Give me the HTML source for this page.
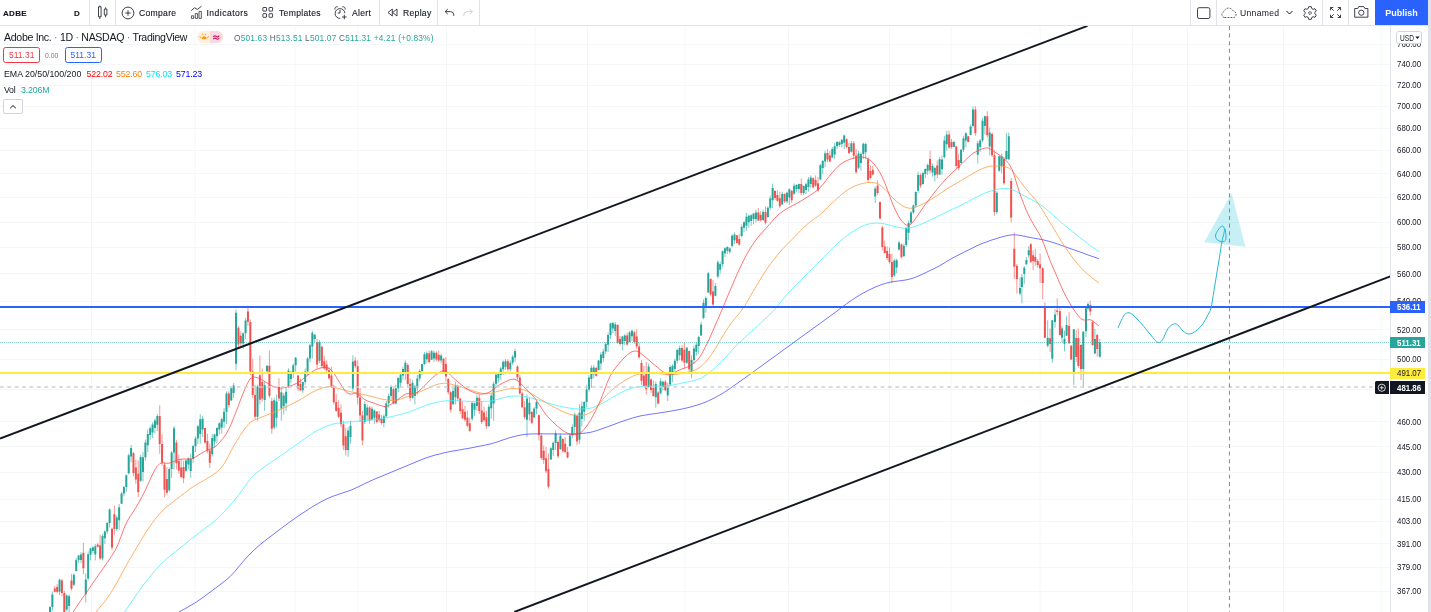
<!DOCTYPE html>
<html><head><meta charset="utf-8"><title>ADBE chart</title>
<style>
html,body{margin:0;padding:0;}
body{width:1431px;height:612px;overflow:hidden;background:#fff;position:relative;font-family:"Liberation Sans",sans-serif;color:#131722;}
.abs{position:absolute;white-space:nowrap;}
#tb{position:absolute;left:0;top:0;width:1428px;height:25px;border-bottom:1px solid #e0e3eb;background:#fff;}
.sep{position:absolute;top:0;width:1px;height:25px;background:#e0e3eb;}
.tt{position:absolute;top:8px;font-size:8.6px;line-height:11px;color:#131722;white-space:nowrap;letter-spacing:0.3px;-webkit-text-stroke:0.12px #131722;}
#strip{position:absolute;left:1428px;top:0;width:3px;height:612px;background:#e0e3eb;}
#axis{position:absolute;left:1390px;top:26px;width:37px;height:586px;border-left:1px solid #e0e3eb;background:#fff;}
.pl{position:absolute;left:1397px;width:30px;font-size:9px;line-height:12px;color:#131722;white-space:nowrap;transform:scaleX(0.875);transform-origin:0 0;}
.tag span{display:inline-block;transform:scaleX(0.875);transform-origin:0 50%;}
.tag{position:absolute;left:1390px;width:34.8px;font-size:9px;font-weight:bold;color:#fff;text-align:left;padding-left:7.3px;box-sizing:border-box;white-space:nowrap;overflow:hidden;}
.lg{position:absolute;white-space:nowrap;}
</style></head><body>
<svg class="abs" style="left:0;top:0" width="1390" height="612" viewBox="0 0 1390 612">
<line x1="91.5" y1="26" x2="91.5" y2="612" stroke="#f5f6f8" stroke-width="1"/>
<line x1="195" y1="26" x2="195" y2="612" stroke="#f5f6f8" stroke-width="1"/>
<line x1="295" y1="26" x2="295" y2="612" stroke="#f5f6f8" stroke-width="1"/>
<line x1="358" y1="26" x2="358" y2="612" stroke="#f5f6f8" stroke-width="1"/>
<line x1="446.5" y1="26" x2="446.5" y2="612" stroke="#f5f6f8" stroke-width="1"/>
<line x1="535" y1="26" x2="535" y2="612" stroke="#f5f6f8" stroke-width="1"/>
<line x1="587.5" y1="26" x2="587.5" y2="612" stroke="#f5f6f8" stroke-width="1"/>
<line x1="685" y1="26" x2="685" y2="612" stroke="#f5f6f8" stroke-width="1"/>
<line x1="788.5" y1="26" x2="788.5" y2="612" stroke="#f5f6f8" stroke-width="1"/>
<line x1="889.5" y1="26" x2="889.5" y2="612" stroke="#f5f6f8" stroke-width="1"/>
<line x1="951" y1="26" x2="951" y2="612" stroke="#f5f6f8" stroke-width="1"/>
<line x1="1040" y1="26" x2="1040" y2="612" stroke="#f5f6f8" stroke-width="1"/>
<line x1="1132.5" y1="26" x2="1132.5" y2="612" stroke="#f5f6f8" stroke-width="1"/>
<line x1="1187.5" y1="26" x2="1187.5" y2="612" stroke="#f5f6f8" stroke-width="1"/>
<line x1="1283.5" y1="26" x2="1283.5" y2="612" stroke="#f5f6f8" stroke-width="1"/>
<line x1="1381" y1="26" x2="1381" y2="612" stroke="#f5f6f8" stroke-width="1"/>
<line x1="0" y1="44.5" x2="1390" y2="44.5" stroke="#f5f6f8" stroke-width="1"/>
<line x1="0" y1="64.5" x2="1390" y2="64.5" stroke="#f5f6f8" stroke-width="1"/>
<line x1="0" y1="85.5" x2="1390" y2="85.5" stroke="#f5f6f8" stroke-width="1"/>
<line x1="0" y1="106.5" x2="1390" y2="106.5" stroke="#f5f6f8" stroke-width="1"/>
<line x1="0" y1="128.5" x2="1390" y2="128.5" stroke="#f5f6f8" stroke-width="1"/>
<line x1="0" y1="150.5" x2="1390" y2="150.5" stroke="#f5f6f8" stroke-width="1"/>
<line x1="0" y1="173.5" x2="1390" y2="173.5" stroke="#f5f6f8" stroke-width="1"/>
<line x1="0" y1="197.5" x2="1390" y2="197.5" stroke="#f5f6f8" stroke-width="1"/>
<line x1="0" y1="222.5" x2="1390" y2="222.5" stroke="#f5f6f8" stroke-width="1"/>
<line x1="0" y1="247.5" x2="1390" y2="247.5" stroke="#f5f6f8" stroke-width="1"/>
<line x1="0" y1="273.5" x2="1390" y2="273.5" stroke="#f5f6f8" stroke-width="1"/>
<line x1="0" y1="301.5" x2="1390" y2="301.5" stroke="#f5f6f8" stroke-width="1"/>
<line x1="0" y1="329.5" x2="1390" y2="329.5" stroke="#f5f6f8" stroke-width="1"/>
<line x1="0" y1="359.5" x2="1390" y2="359.5" stroke="#f5f6f8" stroke-width="1"/>
<line x1="0" y1="389.5" x2="1390" y2="389.5" stroke="#f5f6f8" stroke-width="1"/>
<line x1="0" y1="421.5" x2="1390" y2="421.5" stroke="#f5f6f8" stroke-width="1"/>
<line x1="0" y1="446.5" x2="1390" y2="446.5" stroke="#f5f6f8" stroke-width="1"/>
<line x1="0" y1="472.5" x2="1390" y2="472.5" stroke="#f5f6f8" stroke-width="1"/>
<line x1="0" y1="499.5" x2="1390" y2="499.5" stroke="#f5f6f8" stroke-width="1"/>
<line x1="0" y1="521.5" x2="1390" y2="521.5" stroke="#f5f6f8" stroke-width="1"/>
<line x1="0" y1="543.5" x2="1390" y2="543.5" stroke="#f5f6f8" stroke-width="1"/>
<line x1="0" y1="567.5" x2="1390" y2="567.5" stroke="#f5f6f8" stroke-width="1"/>
<line x1="0" y1="591.5" x2="1390" y2="591.5" stroke="#f5f6f8" stroke-width="1"/>
<path d="M50.00 606.2V614.0M52.38 591.6V610.8M59.54 578.8V595.2M66.69 594.3V611.2M69.08 594.3V613.6M73.85 573.3V586.1M76.23 557.7V571.4M78.62 554.9V563.2M81.00 552.2V563.2M85.78 573.3V602.6M88.16 551.3V580.6M90.54 547.6V560.4M92.93 545.8V553.1M95.31 544.0V560.4M102.47 533.9V560.4M104.85 530.2V544.0M107.24 522.0V533.9M109.62 508.2V527.5M116.78 515.6V531.1M119.16 503.9V529.9M121.55 491.8V503.9M123.93 485.9V496.4M126.32 474.5V491.8M128.70 453.7V474.5M131.09 445.0V462.3M140.63 454.8V482.0M143.01 452.0V481.4M145.40 439.6V460.6M147.78 429.4V452.0M150.17 426.2V439.9M152.56 422.5V438.1M154.94 418.6V433.5M157.32 413.9V431.2M169.25 467.5V491.8M171.63 450.9V477.9M174.02 426.0V469.3M185.94 459.4V472.0M188.33 457.2V469.3M190.71 453.7V477.9M193.10 444.8V462.8M195.48 436.4V452.0M197.87 424.9V443.9M200.25 414.2V443.6M202.64 415.8V437.1M212.18 433.8V456.7M214.56 433.6V447.6M216.95 427.3V443.6M219.33 422.2V434.5M221.72 417.5V433.8M224.10 408.1V427.8M226.49 391.3V424.0M231.26 387.5V400.7M233.64 383.1V397.8M236.03 309.6V370.1M243.18 332.5V348.8M245.57 317.8V339.0M257.50 384.8V420.7M264.65 381.5V410.9M267.03 365.2V371.7M274.19 397.9V429.4M276.57 394.6V427.3M281.34 388.0V420.7M283.73 393.1V414.6M286.12 388.0V410.9M288.50 368.4V388.0M290.88 370.8V383.3M293.27 363.5V378.2M295.65 357.0V371.7M302.81 381.5V392.9M305.19 368.4V384.8M307.58 357.0V375.0M309.96 343.6V362.4M312.35 330.8V358.6M314.73 334.1V342.3M319.50 340.4V363.1M348.12 427.3V456.7M350.51 420.7V443.6M352.89 355.4V391.3M364.82 401.1V424.0M367.20 404.4V420.7M371.97 406.5V420.8M374.36 409.3V424.0M383.90 414.2V427.3M386.28 401.1V417.5M388.67 393.5V407.6M391.05 384.8V401.1M395.82 384.8V404.4M398.21 377.3V392.0M400.59 371.7V388.0M402.98 366.6V379.7M405.36 360.3V379.9M412.52 379.8V398.8M414.90 384.8V404.4M417.29 375.0V394.6M419.67 369.4V381.2M422.06 363.5V375.0M424.44 352.1V365.2M426.83 351.4V363.4M431.60 350.1V360.0M433.98 350.5V361.9M441.14 353.7V363.5M453.06 387.1V404.8M455.45 381.5V404.4M472.14 401.1V420.7M474.53 402.7V415.9M476.91 394.6V410.9M488.84 404.4V427.3M491.22 393.2V418.7M493.61 381.5V420.7M495.99 373.3V388.0M498.38 372.1V382.7M500.76 366.8V379.9M503.15 360.3V375.0M505.53 359.1V370.0M510.30 360.3V371.7M512.69 355.0V365.3M515.07 348.8V361.9M527.00 394.6V437.1M529.38 397.8V420.7M534.15 407.0V418.2M536.54 401.1V414.2M550.85 446.9V459.9M553.23 441.5V456.1M555.62 430.5V450.1M560.39 433.8V450.1M569.93 433.8V446.9M572.31 424.3V438.1M574.70 412.5V433.8M579.47 404.4V443.6M581.85 401.3V426.6M584.24 401.1V420.7M586.62 384.8V407.6M589.01 375.2V391.6M591.39 365.2V388.0M593.78 365.2V378.2M598.55 360.0V370.3M600.93 352.1V370.1M603.32 348.8V361.9M605.70 342.2V353.9M608.09 332.5V352.1M610.47 322.7V339.0M612.86 322.1V333.2M615.25 322.0V335.8M622.40 335.8V350.5M624.78 333.9V344.9M629.55 330.8V342.3M631.94 329.6V340.9M648.63 363.5V388.0M655.79 381.5V407.6M660.56 378.2V394.6M662.94 380.4V390.5M667.71 383.1V401.1M670.10 365.2V386.4M672.48 364.3V382.2M674.87 358.6V375.0M677.25 348.8V363.5M679.64 345.6V360.3M686.79 346.7V363.9M691.56 355.4V378.2M693.95 345.6V363.5M696.33 341.9V355.7M698.72 335.8V353.7M701.10 321.9V335.9M703.49 299.5V319.2M705.87 296.3V312.6M708.26 271.8V293.0M715.41 283.2V296.3M717.80 260.3V278.3M720.18 262.0V273.4M722.57 250.5V266.9M724.95 247.3V257.1M727.34 246.3V254.0M729.72 247.3V253.8M732.11 234.2V247.3M734.49 232.5V244.0M741.65 224.4V237.5M744.03 221.1V232.1M746.42 212.9V230.9M748.80 214.6V227.6M751.19 214.2V225.8M753.57 212.9V224.4M755.96 209.7V222.7M763.11 209.7V221.1M767.88 206.4V217.8M770.27 195.6V209.8M772.65 183.5V208.0M782.19 191.7V204.8M786.96 191.7V203.4M789.35 188.4V204.8M794.12 183.5V195.0M796.50 184.3V192.3M798.89 183.5V193.3M803.66 185.2V195.0M806.04 182.6V194.1M808.43 177.0V191.7M810.81 175.4V188.4M820.35 163.9V180.3M822.74 159.9V174.3M825.12 150.8V167.2M832.28 146.8V158.3M834.66 142.7V159.0M837.05 141.0V149.2M839.43 141.1V146.8M841.82 139.4V147.6M844.20 134.5V149.2M851.36 141.0V152.5M858.51 150.7V169.2M860.90 152.5V170.5M863.28 142.7V159.0M865.67 142.7V159.0M875.21 186.8V203.1M894.29 258.7V276.7M896.67 258.7V273.4M899.06 240.7V250.5M903.83 243.6V256.7M906.21 227.3V246.9M908.60 220.7V240.3M910.98 210.9V224.0M913.37 204.4V214.2M915.75 191.3V207.6M918.14 171.7V192.9M922.91 171.7V184.8M925.29 168.4V178.2M927.68 163.5V175.0M932.45 163.5V176.6M934.83 166.8V181.5M939.60 157.0V175.0M941.99 155.4V175.0M944.37 135.8V158.6M946.76 130.8V150.5M953.91 140.7V147.2M961.07 148.8V163.5M963.45 135.8V152.1M965.84 132.5V147.2M970.61 124.4V135.4M972.99 106.3V127.6M977.76 140.7V163.5M980.15 139.0V152.1M982.53 117.8V142.3M984.92 115.5V134.6M989.69 127.6V155.4M996.84 191.3V214.2M999.23 155.4V171.7M1001.61 153.7V173.3M1006.38 132.8V160.5M1008.77 132.5V160.3M1020.00 277.3V295.3M1021.90 274.0V303.4M1024.30 266.0V283.8M1026.40 257.0V265.0M1028.70 246.2V257.7M1047.70 320.3V347.3M1052.30 320.3V362.8M1055.00 309.0V327.7M1062.00 326.0V342.4M1064.50 330.6V351.4M1066.60 316.2V336.0M1073.80 329.0V384.9M1083.30 331.0V388.0M1086.00 306.0V337.0M1088.00 302.0V310.0M1094.90 329.0V354.0M1099.80 339.0V357.5" stroke="#26a69a" stroke-width="1" opacity="0.6" fill="none"/>
<path d="M54.77 586.1V592.5M57.16 584.2V593.4M61.92 578.8V596.2M64.31 590.7V614.0M71.47 574.2V590.7M83.39 543.0V574.2M97.70 543.0V547.6M100.08 534.8V560.4M112.01 527.5V550.4M114.39 505.5V534.8M133.47 452.0V476.2M135.86 459.8V483.8M138.25 460.6V497.0M159.71 405.2V453.7M162.09 434.2V465.6M164.48 462.3V497.0M166.87 467.0V494.6M176.40 439.8V469.3M178.79 454.6V473.9M181.17 459.2V478.4M183.56 460.6V483.1M205.02 427.8V444.0M207.41 433.8V453.4M209.79 443.6V468.1M228.87 391.3V407.6M238.41 325.9V348.8M240.80 331.1V346.3M247.95 305.7V325.9M250.34 319.4V375.0M252.72 358.9V398.2M255.11 384.8V419.1M259.88 355.4V404.4M262.26 368.5V401.6M269.42 350.5V397.8M271.80 397.8V433.8M278.96 378.2V401.1M298.04 375.0V391.3M300.42 378.7V391.0M317.12 339.0V368.4M321.89 345.6V368.4M324.27 355.6V370.1M326.66 360.3V371.7M329.04 367.2V379.9M331.43 366.8V388.0M333.81 384.8V404.4M336.20 394.1V411.7M338.58 400.4V418.1M340.97 404.4V427.3M343.35 420.7V450.1M345.74 427.9V455.5M355.28 357.0V368.4M357.66 360.3V404.4M360.05 387.9V421.9M362.43 410.9V445.2M369.59 406.0V424.0M376.74 411.0V423.4M379.13 410.9V422.4M381.51 415.1V424.6M393.44 388.0V404.4M407.75 363.5V388.0M410.13 378.2V401.1M429.21 350.5V363.5M436.37 351.1V361.6M438.75 350.5V361.9M443.52 357.7V373.4M445.91 357.0V381.5M448.29 378.2V394.6M450.68 391.3V412.5M457.83 384.8V401.1M460.22 397.8V414.2M462.60 401.1V419.1M464.99 406.0V421.8M467.37 410.9V427.3M469.76 417.5V432.2M479.30 394.6V414.2M481.68 401.1V424.0M484.07 406.5V422.0M486.45 410.9V428.9M507.92 359.3V371.7M517.46 365.2V379.9M519.85 375.0V394.6M522.23 391.8V408.2M524.62 401.1V419.1M531.77 410.9V424.0M538.92 414.2V440.3M541.31 433.8V459.9M543.69 445.5V464.1M546.08 446.9V473.0M548.46 453.4V488.7M558.00 440.3V458.3M562.77 438.1V452.8M565.16 437.1V453.4M567.54 446.9V458.3M577.08 414.2V445.2M596.16 366.8V376.6M617.63 324.3V343.9M620.01 335.8V345.6M627.17 332.5V345.6M634.32 330.8V343.9M636.71 329.2V348.8M639.09 342.3V358.6M641.48 360.3V384.8M643.86 365.8V386.9M646.25 361.9V394.6M651.02 378.2V392.9M653.40 380.5V396.6M658.17 391.3V404.4M665.33 379.9V391.3M682.02 345.5V362.3M684.41 342.3V368.4M689.18 350.5V371.7M710.64 278.3V296.3M713.03 279.9V306.1M736.88 235.0V243.4M739.26 234.2V245.6M758.34 208.0V221.1M760.73 211.0V221.7M765.50 206.4V224.4M775.04 190.1V199.9M777.42 190.3V201.9M779.81 191.7V208.0M784.58 193.3V203.1M791.73 190.1V203.1M801.27 178.6V195.0M813.20 177.3V188.3M815.58 175.4V186.8M817.97 177.0V191.7M827.51 149.2V162.3M829.89 150.8V162.3M846.59 138.2V148.3M848.97 142.7V154.1M853.74 141.0V159.0M856.13 149.2V173.7M868.05 157.4V181.9M870.44 165.4V179.4M872.82 165.6V175.4M877.59 180.3V195.0M879.98 201.5V219.5M882.36 226.0V250.5M884.75 240.7V253.8M887.13 246.3V260.2M889.52 247.3V263.6M891.90 253.8V283.2M901.44 243.6V258.3M920.52 173.3V188.0M930.06 150.5V173.3M937.22 160.3V178.2M949.14 130.8V148.8M951.53 139.0V148.8M956.30 145.6V168.4M958.68 153.7V170.1M968.22 135.8V142.3M975.38 106.3V135.8M987.30 111.2V137.4M992.07 132.5V157.0M994.46 150.5V215.8M1004.00 157.0V184.8M1011.15 178.2V222.4M1014.30 232.4V279.0M1016.90 264.0V293.6M1030.80 243.0V263.0M1033.10 250.3V270.0M1035.30 248.7V265.8M1037.70 259.0V267.5M1040.10 253.6V283.0M1042.70 267.0V299.3M1044.90 302.4V338.0M1050.10 328.5V352.0M1057.20 298.3V315.4M1059.90 308.0V335.5M1069.10 312.2V344.0M1071.20 345.0V360.0M1076.20 330.0V362.0M1078.40 328.5V367.7M1081.00 344.0V380.0M1090.30 300.5V315.5M1092.60 321.0V346.0M1097.20 334.0V356.7" stroke="#ef5350" stroke-width="1" opacity="0.6" fill="none"/>
<path d="M50.00 607.1V614.0M52.38 594.5V607.1M59.54 579.7V591.7M66.69 595.5V609.6M69.08 596.2V605.9M73.85 574.7V584.7M76.23 560.0V570.9M78.62 555.5V560.0M81.00 554.4V559.9M85.78 579.6V594.3M88.16 554.3V578.6M90.54 548.4V554.8M92.93 547.4V551.0M95.31 546.2V554.4M102.47 536.1V558.4M104.85 531.4V538.2M107.24 523.0V531.4M109.62 509.5V523.0M116.78 517.4V528.9M119.16 507.3V520.3M121.55 493.4V503.7M123.93 487.1V493.4M126.32 475.2V487.1M128.70 455.2V473.2M131.09 448.0V456.6M140.63 457.1V480.8M143.01 457.2V471.9M145.40 442.5V457.2M147.78 434.0V445.3M150.17 428.2V435.1M152.56 424.6V432.4M154.94 420.4V427.9M157.32 416.0V424.7M169.25 469.0V490.3M171.63 452.4V469.0M174.02 428.3V452.4M185.94 460.4V470.7M188.33 458.5V464.6M190.71 459.0V471.1M193.10 446.1V459.0M195.48 438.4V446.2M197.87 426.3V438.4M200.25 419.2V433.9M202.64 418.8V429.4M212.18 438.0V454.2M214.56 434.4V441.4M216.95 428.0V436.2M219.33 423.3V429.5M221.72 419.3V427.5M224.10 411.8V421.7M226.49 393.5V411.8M231.26 388.3V400.4M233.64 385.5V392.9M236.03 312.8V363.8M243.18 333.3V343.4M245.57 320.4V333.3M257.50 386.5V416.7M264.65 385.3V400.0M267.03 365.8V371.6M274.19 400.2V427.4M276.57 401.4V417.7M281.34 392.3V408.6M283.73 395.5V406.2M286.12 391.8V403.2M288.50 370.4V386.2M290.88 372.9V379.1M293.27 365.2V372.9M295.65 357.7V365.2M302.81 382.1V390.2M305.19 371.6V382.1M307.58 358.6V371.6M309.96 345.3V358.6M312.35 332.7V346.6M314.73 334.8V338.9M319.50 342.3V360.7M348.12 430.5V450.0M350.51 425.7V437.1M352.89 361.5V388.5M364.82 404.1V421.8M367.20 407.4V415.6M371.97 408.8V419.6M374.36 410.5V417.8M383.90 416.2V423.1M386.28 403.2V416.2M388.67 396.1V403.2M391.05 386.9V396.1M395.82 388.2V403.5M398.21 378.1V388.2M400.59 374.5V382.7M402.98 368.9V375.4M405.36 362.8V372.6M412.52 382.8V397.7M414.90 386.1V395.9M417.29 378.4V388.2M419.67 371.1V378.4M422.06 364.1V371.1M424.44 354.2V364.1M426.83 353.3V359.3M431.60 351.3V359.7M433.98 352.8V358.5M441.14 355.6V360.5M453.06 390.9V404.3M455.45 385.8V397.2M472.14 403.0V418.8M474.53 403.2V409.8M476.91 397.7V405.9M488.84 406.8V425.9M491.22 395.5V408.3M493.61 383.8V403.4M495.99 374.7V383.8M498.38 373.0V378.3M500.76 368.5V375.1M503.15 361.8V369.2M505.53 361.3V366.7M510.30 362.7V369.2M512.69 356.8V362.7M515.07 351.1V357.6M527.00 398.6V419.8M529.38 402.8V414.2M534.15 408.6V417.6M536.54 402.0V408.6M550.85 448.2V459.6M553.23 442.7V450.0M555.62 433.3V443.1M560.39 435.7V449.0M569.93 435.5V445.9M572.31 427.0V435.5M574.70 414.4V427.0M579.47 412.7V439.8M581.85 406.3V418.9M584.24 402.0V411.8M586.62 389.4V402.0M589.01 377.6V389.4M591.39 367.7V379.1M593.78 367.6V374.2M598.55 360.6V370.0M600.93 354.5V363.5M603.32 351.6V358.1M605.70 344.0V351.6M608.09 334.9V344.7M610.47 323.4V334.9M612.86 323.0V328.5M615.25 324.2V331.0M622.40 336.6V344.0M624.78 335.4V340.9M629.55 332.5V342.0M631.94 330.7V336.3M648.63 366.4V387.0M655.79 384.1V397.2M660.56 381.2V393.2M662.94 381.7V386.8M667.71 386.5V395.5M670.10 366.9V384.5M672.48 366.0V374.9M674.87 360.7V368.9M677.25 350.0V360.7M679.64 347.9V355.3M686.79 347.8V362.8M691.56 360.0V371.4M693.95 348.6V360.0M696.33 344.8V351.7M698.72 337.1V346.1M701.10 324.4V335.5M703.49 302.7V318.1M705.87 298.0V306.2M708.26 273.3V292.6M715.41 286.0V295.8M717.80 262.2V276.6M720.18 264.1V269.8M722.57 251.3V264.1M724.95 248.3V253.2M727.34 246.9V250.7M729.72 248.6V251.8M732.11 235.7V246.0M734.49 234.6V240.3M741.65 226.7V236.1M744.03 222.2V227.7M746.42 216.8V225.7M748.80 215.7V222.3M751.19 215.3V221.1M753.57 213.4V219.1M755.96 212.4V218.9M763.11 212.1V219.9M767.88 207.7V217.1M770.27 198.5V207.7M772.65 188.1V200.3M782.19 194.1V204.4M786.96 192.7V201.4M789.35 189.2V197.4M794.12 185.8V193.7M796.50 185.0V189.0M798.89 184.1V189.0M803.66 186.0V193.0M806.04 184.3V190.1M808.43 179.6V186.9M810.81 177.4V184.0M820.35 165.3V179.6M822.74 160.9V168.1M825.12 153.2V161.4M832.28 148.9V157.4M834.66 146.2V154.4M837.05 142.1V146.2M839.43 142.2V145.1M841.82 139.8V143.9M844.20 135.4V142.8M851.36 143.3V151.8M858.51 153.4V167.8M860.90 153.9V162.9M863.28 143.7V153.9M865.67 144.1V152.3M875.21 188.4V196.5M894.29 260.4V275.4M896.67 260.2V267.6M899.06 242.6V249.4M903.83 245.8V256.2M906.21 228.1V244.9M908.60 223.0V232.8M910.98 212.4V222.7M913.37 205.6V212.4M915.75 192.0V205.6M918.14 175.0V190.8M922.91 173.1V183.9M925.29 169.1V174.0M927.68 165.1V170.8M932.45 165.9V172.5M934.83 167.9V175.3M939.60 159.3V174.4M941.99 159.4V169.2M944.37 140.4V156.9M946.76 134.5V144.3M953.91 141.9V146.9M961.07 149.7V162.9M963.45 138.5V149.7M965.84 133.2V140.5M970.61 126.5V135.0M972.99 109.5V126.1M977.76 143.3V154.7M980.15 140.5V147.1M982.53 120.7V140.5M984.92 116.3V125.9M989.69 132.5V146.4M996.84 192.8V211.9M999.23 156.3V170.7M1001.61 156.3V166.1M1006.38 151.0V159.0M1008.77 136.2V159.3M1020.00 288.0V293.6M1021.90 277.3V287.0M1024.30 267.8V274.0M1026.40 260.0V264.2M1028.70 250.3V255.2M1047.70 337.8V345.7M1052.30 320.3V358.7M1055.00 314.6V322.0M1062.00 328.5V337.8M1064.50 338.8V343.7M1066.60 325.0V335.8M1073.80 329.3V372.6M1083.30 331.7V369.1M1086.00 308.3V331.2M1088.00 304.0V308.5M1094.90 339.0V353.4M1099.80 342.3V356.7" stroke="#26a69a" stroke-width="2" fill="none"/>
<path d="M54.77 588.5V591.7M57.16 587.1V591.7M61.92 580.5V593.0M64.31 593.0V613.9M71.47 580.6V588.8M83.39 552.7V568.3M97.70 544.4V546.7M100.08 545.6V558.4M112.01 528.7V547.6M114.39 514.2V528.9M133.47 453.2V473.0M135.86 467.4V479.4M138.25 473.7V491.9M159.71 416.0V444.1M162.09 444.1V462.8M164.48 464.8V489.7M166.87 479.0V492.8M176.40 442.5V463.3M178.79 460.9V470.6M181.17 467.5V477.1M183.56 467.1V478.3M205.02 428.1V442.4M207.41 441.0V450.8M209.79 450.5V462.8M228.87 393.5V404.9M238.41 327.7V344.6M240.80 335.8V343.4M247.95 311.6V321.8M250.34 321.9V371.5M252.72 371.5V394.9M255.11 394.9V416.7M259.88 375.2V399.7M262.26 382.0V398.5M269.42 365.8V395.8M271.80 400.9V428.8M278.96 387.0V398.4M298.04 375.4V388.5M300.42 384.0V390.2M317.12 342.2V364.4M321.89 346.7V366.0M324.27 361.3V368.5M326.66 364.5V370.2M329.04 370.2V378.2M331.43 375.6V386.2M333.81 386.2V402.2M336.20 402.1V410.9M338.58 407.8V416.7M340.97 412.7V424.2M343.35 424.2V445.5M345.74 436.2V450.0M355.28 360.5V366.3M357.66 366.3V397.6M360.05 397.6V415.5M362.43 415.5V440.6M369.59 407.4V420.4M376.74 411.4V422.1M379.13 414.5V420.2M381.51 418.4V423.1M393.44 389.3V403.5M407.75 365.1V384.0M410.13 384.0V397.7M429.21 353.3V361.9M436.37 352.8V359.4M438.75 354.8V360.5M443.52 358.7V372.1M445.91 364.1V376.4M448.29 378.9V392.2M450.68 392.2V409.7M457.83 386.4V398.4M460.22 398.5V410.9M462.60 409.3V418.3M464.99 411.8V419.7M467.37 417.5V425.7M469.76 423.3V430.7M479.30 397.7V410.9M481.68 410.4V421.9M484.07 412.5V420.3M486.45 417.3V426.3M507.92 361.3V369.2M517.46 366.5V377.6M519.85 377.6V393.6M522.23 393.6V407.2M524.62 407.2V417.3M531.77 411.9V422.8M538.92 415.2V435.0M541.31 435.5V457.9M543.69 450.7V460.0M546.08 458.2V471.3M548.46 469.1V486.7M558.00 441.9V456.2M562.77 438.9V451.3M565.16 443.8V451.9M567.54 451.9V457.6M577.08 415.9V441.5M596.16 367.9V375.8M617.63 324.9V342.2M620.01 339.0V343.9M627.17 335.4V344.5M634.32 332.2V341.9M636.71 336.6V346.4M639.09 346.4V357.2M641.48 362.9V380.7M643.86 375.4V386.0M646.25 373.0V389.3M651.02 379.4V389.9M653.40 387.8V395.9M658.17 392.4V403.4M665.33 381.7V390.2M682.02 347.9V360.5M684.41 349.7V362.8M689.18 351.0V369.3M710.64 279.1V294.4M713.03 291.4V304.5M736.88 235.2V243.0M739.26 238.9V244.6M758.34 212.4V220.5M760.73 215.0V220.3M765.50 212.1V222.8M775.04 191.0V198.1M777.42 195.0V200.8M779.81 198.2V206.3M784.58 194.1V201.4M791.73 190.7V200.3M801.27 184.1V193.0M813.20 178.3V187.3M815.58 179.9V185.6M817.97 183.2V190.6M827.51 152.9V159.4M829.89 155.6V161.4M846.59 139.3V146.9M848.97 146.9V152.9M853.74 143.3V155.8M856.13 155.8V172.3M868.05 159.3V180.0M870.44 171.0V178.0M872.82 169.7V174.6M877.59 185.6V192.9M879.98 202.0V218.4M882.36 227.4V247.1M884.75 246.5V253.1M887.13 251.0V257.9M889.52 253.9V262.1M891.90 262.1V277.0M901.44 244.4V257.2M920.52 175.0V185.8M930.06 159.0V170.4M937.22 165.4V174.4M949.14 134.5V147.4M951.53 142.0V146.9M956.30 146.5V165.9M958.68 160.1V168.3M968.22 136.3V142.0M975.38 109.5V133.0M987.30 116.3V135.2M992.07 134.0V155.2M994.46 155.2V211.9M1004.00 159.1V183.2M1011.15 181.1V217.6M1014.30 248.7V266.7M1016.90 265.8V279.0M1030.80 244.3V261.8M1033.10 255.2V261.0M1035.30 257.0V261.8M1037.70 261.0V265.0M1040.10 264.2V268.3M1042.70 268.3V283.0M1044.90 307.3V337.8M1050.10 338.3V344.0M1057.20 310.5V312.0M1059.90 311.3V335.0M1069.10 326.0V343.2M1071.20 345.7V359.5M1076.20 338.0V357.0M1078.40 338.3V366.0M1081.00 345.0V369.0M1090.30 305.0V311.6M1092.60 322.0V345.0M1097.20 335.0V349.0" stroke="#ef5350" stroke-width="2" fill="none"/>
<path d="M179.0 612.0L182.0 610.3L185.0 608.7L188.0 607.0L191.0 605.3L194.0 603.5L197.0 601.6L200.0 599.5L203.0 597.4L206.0 595.2L209.0 592.9L212.0 590.7L215.0 588.5L218.0 586.3L221.0 584.0L224.0 581.7L227.0 579.3L230.0 576.6L233.0 573.5L236.0 570.1L239.0 566.4L242.0 562.8L245.0 559.3L248.0 556.0L251.0 553.0L254.0 550.1L257.0 547.3L260.0 544.7L263.0 542.3L266.0 539.9L269.0 537.6L272.0 535.4L275.0 533.1L278.0 530.8L281.0 528.6L284.0 526.3L287.0 524.1L290.0 521.8L293.0 519.7L296.0 517.6L299.0 515.5L302.0 513.5L305.0 511.6L308.0 509.6L311.0 507.7L314.0 505.8L317.0 504.1L320.0 502.4L323.0 500.8L326.0 499.3L329.0 497.8L332.0 496.6L335.0 495.5L338.0 494.5L341.0 493.5L344.0 492.5L347.0 491.5L350.0 490.5L353.0 489.3L356.0 487.9L359.0 486.5L362.0 485.0L365.0 483.5L368.0 482.1L371.0 480.7L374.0 479.4L377.0 478.1L380.0 476.9L383.0 475.7L386.0 474.4L389.0 473.2L392.0 471.9L395.0 470.7L398.0 469.4L401.0 468.2L404.0 466.9L407.0 465.7L410.0 464.4L413.0 463.2L416.0 461.9L419.0 460.7L422.0 459.5L425.0 458.3L428.0 457.2L431.0 456.3L434.0 455.4L437.0 454.6L440.0 453.9L443.0 453.1L446.0 452.4L449.0 451.8L452.0 451.2L455.0 450.7L458.0 450.2L461.0 449.7L464.0 449.1L467.0 448.6L470.0 448.1L473.0 447.5L476.0 446.9L479.0 446.3L482.0 445.7L485.0 445.1L488.0 444.5L491.0 443.8L494.0 442.9L497.0 442.0L500.0 440.9L503.0 439.9L506.0 438.9L509.0 437.9L512.0 437.1L515.0 436.3L518.0 435.6L521.0 435.0L524.0 434.5L527.0 434.2L530.0 434.0L533.0 433.9L536.0 433.9L539.0 433.9L542.0 433.8L545.0 433.9L548.0 433.9L551.0 433.9L554.0 433.9L557.0 434.0L560.0 434.0L563.0 434.0L566.0 434.0L569.0 434.0L572.0 433.9L575.0 433.8L578.0 433.7L581.0 433.5L584.0 433.2L587.0 432.9L590.0 432.4L593.0 431.7L596.0 430.8L599.0 429.8L602.0 428.8L605.0 427.7L608.0 426.6L611.0 425.5L614.0 424.4L617.0 423.3L620.0 422.2L623.0 421.1L626.0 420.1L629.0 419.1L632.0 418.2L635.0 417.3L638.0 416.5L641.0 415.8L644.0 415.3L647.0 414.8L650.0 414.3L653.0 413.9L656.0 413.5L659.0 413.0L662.0 412.6L665.0 412.1L668.0 411.6L671.0 411.1L674.0 410.5L677.0 410.0L680.0 409.4L683.0 408.8L686.0 408.1L689.0 407.4L692.0 406.6L695.0 405.7L698.0 404.8L701.0 403.8L704.0 402.7L707.0 401.5L710.0 400.1L713.0 398.6L716.0 397.1L719.0 395.4L722.0 393.7L725.0 391.8L728.0 389.8L731.0 387.7L734.0 385.6L737.0 383.5L740.0 381.4L743.0 379.3L746.0 377.1L749.0 375.0L752.0 372.8L755.0 370.6L758.0 368.4L761.0 366.3L764.0 364.1L767.0 361.9L770.0 359.7L773.0 357.5L776.0 355.4L779.0 353.2L782.0 351.0L785.0 348.8L788.0 346.7L791.0 344.5L794.0 342.3L797.0 340.1L800.0 337.9L803.0 335.8L806.0 333.6L809.0 331.4L812.0 329.2L815.0 327.1L818.0 324.9L821.0 322.7L824.0 320.5L827.0 318.3L830.0 316.2L833.0 314.0L836.0 311.8L839.0 309.5L842.0 307.2L845.0 305.0L848.0 302.7L851.0 300.6L854.0 298.6L857.0 296.7L860.0 294.9L863.0 293.2L866.0 291.6L869.0 290.0L872.0 288.6L875.0 287.2L878.0 286.0L881.0 284.8L884.0 283.8L887.0 282.9L890.0 282.2L893.0 281.7L896.0 281.3L899.0 280.9L902.0 280.5L905.0 280.1L908.0 279.5L911.0 278.7L914.0 277.8L917.0 276.6L920.0 275.3L923.0 273.9L926.0 272.5L929.0 271.0L932.0 269.6L935.0 268.1L938.0 266.6L941.0 264.9L944.0 263.2L947.0 261.3L950.0 259.5L953.0 257.8L956.0 256.2L959.0 254.7L962.0 253.2L965.0 251.7L968.0 250.2L971.0 248.7L974.0 247.2L977.0 245.7L980.0 244.4L983.0 243.2L986.0 242.1L989.0 241.0L992.0 239.9L995.0 239.0L998.0 238.0L1001.0 237.2L1004.0 236.3L1007.0 235.6L1010.0 235.1L1013.0 234.8L1016.0 234.9L1019.0 235.2L1022.0 235.8L1025.0 236.4L1028.0 237.1L1031.0 237.6L1034.0 238.2L1037.0 238.7L1040.0 239.2L1043.0 239.8L1046.0 240.5L1049.0 241.3L1052.0 242.2L1055.0 243.1L1058.0 244.1L1061.0 245.2L1064.0 246.3L1067.0 247.4L1070.0 248.5L1073.0 249.5L1076.0 250.6L1079.0 251.6L1082.0 252.7L1085.0 253.8L1088.0 254.9L1091.0 256.0L1094.0 257.0L1097.0 258.0L1099.0 258.9" stroke="#4a4aff" stroke-width="0.9" fill="none" opacity="0.85" stroke-linejoin="round"/>
<path d="M124.5 612.0L127.5 607.6L130.5 603.3L133.5 598.9L136.5 594.5L139.5 590.3L142.5 586.1L145.5 582.2L148.5 578.4L151.5 574.8L154.5 571.2L157.5 567.8L160.5 564.6L163.5 561.7L166.5 559.0L169.5 556.6L172.5 554.2L175.5 551.8L178.5 549.3L181.5 546.9L184.5 544.5L187.5 542.0L190.5 539.5L193.5 537.1L196.5 534.8L199.5 532.5L202.5 530.2L205.5 528.0L208.5 525.8L211.5 523.5L214.5 521.1L217.5 518.4L220.5 515.5L223.5 512.4L226.5 509.2L229.5 506.0L232.5 502.6L235.5 499.1L238.5 495.3L241.5 491.2L244.5 486.9L247.5 482.7L250.5 478.8L253.5 475.6L256.5 472.9L259.5 470.5L262.5 468.3L265.5 466.2L268.5 464.1L271.5 462.0L274.5 460.0L277.5 457.9L280.5 455.8L283.5 453.7L286.5 451.6L289.5 449.5L292.5 447.4L295.5 445.3L298.5 443.2L301.5 441.0L304.5 438.9L307.5 436.7L310.5 434.7L313.5 432.7L316.5 431.0L319.5 429.4L322.5 428.0L325.5 426.6L328.5 425.4L331.5 424.4L334.5 423.7L337.5 423.2L340.5 422.8L343.5 422.5L346.5 422.1L349.5 421.8L352.5 421.6L355.5 421.3L358.5 421.1L361.5 420.8L364.5 420.5L367.5 420.2L370.5 419.9L373.5 419.6L376.5 419.3L379.5 418.9L382.5 418.4L385.5 417.8L388.5 417.3L391.5 416.6L394.5 416.0L397.5 415.2L400.5 414.4L403.5 413.5L406.5 412.6L409.5 411.7L412.5 410.6L415.5 409.5L418.5 408.3L421.5 407.1L424.5 405.9L427.5 404.8L430.5 403.9L433.5 403.1L436.5 402.4L439.5 401.8L442.5 401.2L445.5 400.9L448.5 400.7L451.5 400.7L454.5 400.8L457.5 400.9L460.5 401.0L463.5 401.1L466.5 401.3L469.5 401.4L472.5 401.6L475.5 401.6L478.5 401.6L481.5 401.5L484.5 401.4L487.5 401.2L490.5 400.9L493.5 400.4L496.5 399.7L499.5 398.9L502.5 398.0L505.5 397.2L508.5 396.6L511.5 396.2L514.5 396.1L517.5 396.0L520.5 396.1L523.5 396.4L526.5 396.8L529.5 397.5L532.5 398.3L535.5 399.1L538.5 400.0L541.5 401.0L544.5 401.9L547.5 402.8L550.5 403.7L553.5 404.6L556.5 405.4L559.5 406.1L562.5 406.8L565.5 407.4L568.5 407.9L571.5 408.4L574.5 408.7L577.5 408.9L580.5 409.0L583.5 408.9L586.5 408.8L589.5 408.4L592.5 407.6L595.5 406.5L598.5 405.2L601.5 403.7L604.5 402.1L607.5 400.4L610.5 398.6L613.5 396.8L616.5 395.1L619.5 393.4L622.5 391.9L625.5 390.4L628.5 389.2L631.5 388.2L634.5 387.5L637.5 386.9L640.5 386.5L643.5 386.2L646.5 386.1L649.5 386.0L652.5 386.0L655.5 386.0L658.5 386.0L661.5 386.0L664.5 385.9L667.5 385.7L670.5 385.4L673.5 384.9L676.5 384.3L679.5 383.6L682.5 383.0L685.5 382.4L688.5 381.9L691.5 381.3L694.5 380.5L697.5 379.5L700.5 378.3L703.5 376.7L706.5 374.8L709.5 372.5L712.5 370.0L715.5 367.3L718.5 364.5L721.5 361.6L724.5 358.4L727.5 355.2L730.5 351.8L733.5 348.5L736.5 345.4L739.5 342.5L742.5 339.7L745.5 336.9L748.5 334.2L751.5 331.4L754.5 328.7L757.5 325.9L760.5 323.1L763.5 320.4L766.5 317.6L769.5 314.8L772.5 311.8L775.5 308.5L778.5 305.0L781.5 301.2L784.5 297.5L787.5 293.9L790.5 290.6L793.5 287.5L796.5 284.4L799.5 281.5L802.5 278.5L805.5 275.5L808.5 272.4L811.5 269.4L814.5 266.4L817.5 263.4L820.5 260.4L823.5 257.3L826.5 254.3L829.5 251.3L832.5 248.3L835.5 245.3L838.5 242.5L841.5 239.9L844.5 237.5L847.5 235.2L850.5 233.0L853.5 231.1L856.5 229.2L859.5 227.6L862.5 226.1L865.5 224.9L868.5 224.0L871.5 223.5L874.5 223.2L877.5 223.1L880.5 223.3L883.5 223.7L886.5 224.3L889.5 225.0L892.5 225.9L895.5 226.7L898.5 227.4L901.5 228.0L904.5 228.3L907.5 228.2L910.5 227.8L913.5 227.1L916.5 226.0L919.5 224.9L922.5 223.6L925.5 222.3L928.5 220.9L931.5 219.5L934.5 218.0L937.5 216.5L940.5 215.0L943.5 213.5L946.5 212.0L949.5 210.6L952.5 209.2L955.5 207.8L958.5 206.4L961.5 205.0L964.5 203.4L967.5 201.9L970.5 200.3L973.5 198.7L976.5 197.1L979.5 195.6L982.5 194.2L985.5 192.9L988.5 191.7L991.5 190.8L994.5 189.9L997.5 189.2L1000.5 188.8L1003.5 188.5L1006.5 188.5L1009.5 188.9L1012.5 189.7L1015.5 191.0L1018.5 192.6L1021.5 194.3L1024.5 196.0L1027.5 197.6L1030.5 199.2L1033.5 200.8L1036.5 202.3L1039.5 204.1L1042.5 206.2L1045.5 208.6L1048.5 211.2L1051.5 213.8L1054.5 216.5L1057.5 219.1L1060.5 221.7L1063.5 224.3L1066.5 226.8L1069.5 229.3L1072.5 231.7L1075.5 234.1L1078.5 236.5L1081.5 238.8L1084.5 241.1L1087.5 243.4L1090.5 245.7L1093.5 247.9L1096.5 249.9L1099.0 251.9" stroke="#3cf2ff" stroke-width="0.9" fill="none" opacity="0.85" stroke-linejoin="round"/>
<path d="M96.0 612.0L99.0 608.4L102.0 604.7L105.0 601.0L108.0 597.0L111.0 592.6L114.0 587.7L117.0 582.3L120.0 576.9L123.0 571.3L126.0 565.9L129.0 560.5L132.0 555.4L135.0 550.3L138.0 545.3L141.0 540.3L144.0 535.3L147.0 530.6L150.0 526.3L153.0 522.1L156.0 518.2L159.0 514.5L162.0 511.1L165.0 508.3L168.0 505.8L171.0 503.5L174.0 501.2L177.0 498.8L180.0 496.5L183.0 494.2L186.0 491.9L189.0 489.6L192.0 487.5L195.0 485.6L198.0 483.8L201.0 482.1L204.0 480.3L207.0 478.5L210.0 476.7L213.0 474.7L216.0 472.6L219.0 470.0L222.0 466.8L225.0 462.4L228.0 456.9L231.0 451.0L234.0 445.5L237.0 440.5L240.0 435.8L243.0 431.2L246.0 426.9L249.0 423.5L252.0 421.2L255.0 419.7L258.0 418.5L261.0 417.3L264.0 416.2L267.0 415.0L270.0 413.8L273.0 412.5L276.0 411.3L279.0 410.1L282.0 408.8L285.0 407.4L288.0 405.9L291.0 404.4L294.0 402.9L297.0 401.4L300.0 399.7L303.0 397.9L306.0 396.0L309.0 394.2L312.0 392.4L315.0 390.9L318.0 389.6L321.0 388.4L324.0 387.5L327.0 386.8L330.0 386.8L333.0 387.2L336.0 387.9L339.0 388.7L342.0 389.5L345.0 390.3L348.0 391.1L351.0 391.8L354.0 392.4L357.0 393.1L360.0 393.7L363.0 394.4L366.0 395.1L369.0 395.8L372.0 396.6L375.0 397.3L378.0 398.1L381.0 398.9L384.0 399.5L387.0 399.9L390.0 400.3L393.0 400.5L396.0 400.3L399.0 399.7L402.0 398.7L405.0 397.5L408.0 396.4L411.0 395.2L414.0 394.1L417.0 392.9L420.0 391.7L423.0 390.4L426.0 389.1L429.0 387.7L432.0 386.3L435.0 385.1L438.0 384.2L441.0 383.5L444.0 383.2L447.0 383.4L450.0 383.9L453.0 384.7L456.0 385.5L459.0 386.4L462.0 387.3L465.0 388.3L468.0 389.3L471.0 390.3L474.0 391.2L477.0 392.1L480.0 392.9L483.0 393.6L486.0 393.9L489.0 393.6L492.0 392.9L495.0 392.1L498.0 391.3L501.0 390.6L504.0 389.9L507.0 389.2L510.0 388.7L513.0 388.5L516.0 388.6L519.0 388.9L522.0 389.5L525.0 390.3L528.0 391.7L531.0 393.5L534.0 395.3L537.0 397.2L540.0 399.0L543.0 400.8L546.0 402.6L549.0 404.4L552.0 406.1L555.0 407.7L558.0 409.2L561.0 410.7L564.0 412.0L567.0 413.3L570.0 414.3L573.0 415.1L576.0 415.6L579.0 415.7L582.0 415.5L585.0 414.8L588.0 413.7L591.0 412.1L594.0 409.9L597.0 406.7L600.0 403.0L603.0 399.2L606.0 395.8L609.0 392.7L612.0 389.8L615.0 387.3L618.0 385.0L621.0 383.0L624.0 381.0L627.0 379.2L630.0 377.5L633.0 376.0L636.0 374.9L639.0 374.1L642.0 373.5L645.0 373.2L648.0 373.1L651.0 373.1L654.0 373.2L657.0 373.5L660.0 373.8L663.0 374.1L666.0 374.6L669.0 375.0L672.0 375.0L675.0 374.7L678.0 374.1L681.0 373.4L684.0 372.8L687.0 372.3L690.0 371.7L693.0 370.8L696.0 369.6L699.0 367.9L702.0 365.7L705.0 362.7L708.0 359.2L711.0 355.2L714.0 350.7L717.0 345.8L720.0 340.8L723.0 335.8L726.0 330.9L729.0 326.3L732.0 322.1L735.0 318.4L738.0 314.9L741.0 311.2L744.0 306.9L747.0 302.0L750.0 296.9L753.0 291.6L756.0 286.5L759.0 281.5L762.0 276.7L765.0 271.9L768.0 267.4L771.0 263.2L774.0 259.4L777.0 255.6L780.0 252.0L783.0 248.7L786.0 245.5L789.0 242.5L792.0 239.5L795.0 236.4L798.0 233.3L801.0 230.2L804.0 227.2L807.0 224.4L810.0 222.0L813.0 219.8L816.0 217.7L819.0 215.4L822.0 212.9L825.0 210.0L828.0 207.1L831.0 204.2L834.0 201.3L837.0 198.6L840.0 195.9L843.0 193.3L846.0 191.0L849.0 189.0L852.0 187.4L855.0 186.0L858.0 184.8L861.0 183.9L864.0 183.2L867.0 182.6L870.0 182.4L873.0 182.5L876.0 183.1L879.0 184.4L882.0 186.6L885.0 189.4L888.0 192.6L891.0 195.9L894.0 199.1L897.0 201.9L900.0 204.2L903.0 206.1L906.0 207.5L909.0 208.2L912.0 208.2L915.0 207.4L918.0 206.2L921.0 204.8L924.0 203.4L927.0 201.8L930.0 200.1L933.0 198.2L936.0 196.3L939.0 194.3L942.0 192.2L945.0 190.1L948.0 188.2L951.0 186.3L954.0 184.6L957.0 182.9L960.0 181.1L963.0 179.4L966.0 177.6L969.0 175.8L972.0 174.0L975.0 172.3L978.0 170.6L981.0 169.2L984.0 168.0L987.0 167.0L990.0 166.3L993.0 165.9L996.0 165.8L999.0 165.9L1002.0 166.2L1005.0 166.7L1008.0 167.6L1011.0 169.6L1014.0 172.8L1017.0 176.9L1020.0 181.0L1023.0 185.0L1026.0 188.8L1029.0 192.4L1032.0 195.8L1035.0 199.3L1038.0 203.2L1041.0 207.7L1044.0 212.6L1047.0 217.5L1050.0 222.4L1053.0 227.4L1056.0 232.3L1059.0 237.3L1062.0 242.2L1065.0 246.9L1068.0 251.4L1071.0 255.6L1074.0 259.5L1077.0 263.2L1080.0 266.6L1083.0 269.8L1086.0 272.7L1089.0 275.3L1092.0 277.8L1095.0 280.1L1098.0 282.0L1099.0 283.3" stroke="#ff9a3c" stroke-width="0.9" fill="none" opacity="0.85" stroke-linejoin="round"/>
<path d="M73.0 612.0L76.0 607.6L79.0 603.2L82.0 598.8L85.0 594.5L88.0 590.1L91.0 585.8L94.0 581.5L97.0 577.2L100.0 572.9L103.0 568.6L106.0 564.3L109.0 560.0L112.0 555.5L115.0 550.6L118.0 544.4L121.0 536.5L124.0 528.3L127.0 521.6L130.0 516.6L133.0 512.1L136.0 507.4L139.0 502.2L142.0 496.8L145.0 490.9L148.0 484.3L151.0 477.5L154.0 471.3L157.0 466.4L160.0 463.4L163.0 462.8L166.0 463.3L169.0 463.2L172.0 462.3L175.0 460.9L178.0 459.8L181.0 459.2L184.0 459.0L187.0 459.0L190.0 458.9L193.0 458.3L196.0 456.7L199.0 454.8L202.0 452.9L205.0 451.3L208.0 450.1L211.0 448.9L214.0 447.5L217.0 445.3L220.0 442.0L223.0 438.4L226.0 434.2L229.0 428.8L232.0 422.0L235.0 414.5L238.0 406.6L241.0 398.7L244.0 391.2L247.0 384.2L250.0 378.9L253.0 376.9L256.0 377.3L259.0 378.3L262.0 379.8L265.0 381.6L268.0 383.5L271.0 385.4L274.0 387.0L277.0 387.8L280.0 388.0L283.0 387.9L286.0 387.4L289.0 386.4L292.0 385.3L295.0 384.1L298.0 382.6L301.0 380.5L304.0 378.1L307.0 375.7L310.0 373.3L313.0 371.1L316.0 369.5L319.0 368.4L322.0 367.6L325.0 367.3L328.0 367.8L331.0 369.6L334.0 373.4L337.0 378.1L340.0 383.1L343.0 387.9L346.0 391.6L349.0 393.9L352.0 394.0L355.0 393.1L358.0 393.7L361.0 396.5L364.0 399.2L367.0 400.8L370.0 401.8L373.0 402.8L376.0 403.9L379.0 405.0L382.0 406.0L385.0 406.6L388.0 405.9L391.0 404.3L394.0 402.3L397.0 400.1L400.0 397.8L403.0 395.5L406.0 393.8L409.0 393.6L412.0 393.9L415.0 393.7L418.0 392.0L421.0 389.3L424.0 386.3L427.0 383.2L430.0 380.2L433.0 377.2L436.0 374.7L439.0 372.6L442.0 370.9L445.0 370.5L448.0 372.6L451.0 375.7L454.0 378.5L457.0 381.1L460.0 383.6L463.0 385.9L466.0 388.2L469.0 390.2L472.0 391.7L475.0 392.9L478.0 393.8L481.0 394.1L484.0 393.8L487.0 393.1L490.0 391.8L493.0 389.7L496.0 387.3L499.0 385.1L502.0 383.4L505.0 381.9L508.0 380.5L511.0 379.4L514.0 379.1L517.0 380.2L520.0 382.8L523.0 385.9L526.0 388.9L529.0 391.9L532.0 394.9L535.0 398.4L538.0 402.7L541.0 407.5L544.0 412.0L547.0 415.8L550.0 419.1L553.0 422.1L556.0 424.9L559.0 427.4L562.0 429.8L565.0 431.9L568.0 433.5L571.0 434.5L574.0 434.6L577.0 434.2L580.0 433.2L583.0 430.7L586.0 427.0L589.0 422.7L592.0 417.7L595.0 412.0L598.0 405.9L601.0 399.1L604.0 391.4L607.0 383.3L610.0 376.2L613.0 371.2L616.0 367.2L619.0 363.5L622.0 360.1L625.0 357.0L628.0 354.2L631.0 352.1L634.0 351.0L637.0 351.2L640.0 352.8L643.0 355.1L646.0 357.6L649.0 360.2L652.0 362.8L655.0 365.3L658.0 367.8L661.0 370.3L664.0 372.4L667.0 374.0L670.0 374.3L673.0 373.3L676.0 371.7L679.0 370.2L682.0 369.0L685.0 368.0L688.0 366.8L691.0 365.2L694.0 363.1L697.0 360.6L700.0 356.7L703.0 351.5L706.0 345.7L709.0 339.5L712.0 332.8L715.0 325.9L718.0 319.0L721.0 312.0L724.0 304.9L727.0 297.8L730.0 290.7L733.0 283.6L736.0 276.6L739.0 269.9L742.0 263.7L745.0 257.7L748.0 252.1L751.0 247.2L754.0 242.8L757.0 238.6L760.0 234.9L763.0 231.5L766.0 228.2L769.0 224.8L772.0 221.4L775.0 218.1L778.0 215.0L781.0 212.6L784.0 210.6L787.0 208.6L790.0 206.9L793.0 205.3L796.0 203.8L799.0 202.1L802.0 200.3L805.0 198.5L808.0 196.6L811.0 194.7L814.0 192.6L817.0 190.5L820.0 187.9L823.0 184.4L826.0 180.5L829.0 176.5L832.0 172.9L835.0 169.5L838.0 166.4L841.0 163.9L844.0 162.0L847.0 160.5L850.0 159.2L853.0 158.3L856.0 157.6L859.0 157.2L862.0 157.1L865.0 157.4L868.0 158.7L871.0 160.9L874.0 163.9L877.0 167.8L880.0 172.7L883.0 178.8L886.0 185.9L889.0 194.1L892.0 202.3L895.0 209.3L898.0 215.3L901.0 220.1L904.0 223.5L907.0 225.3L910.0 224.8L913.0 221.9L916.0 217.9L919.0 213.6L922.0 209.2L925.0 204.9L928.0 200.9L931.0 196.9L934.0 193.1L937.0 189.3L940.0 185.7L943.0 182.2L946.0 178.9L949.0 175.8L952.0 172.9L955.0 170.1L958.0 167.2L961.0 164.4L964.0 161.5L967.0 158.6L970.0 155.8L973.0 153.4L976.0 151.7L979.0 150.2L982.0 148.9L985.0 148.0L988.0 147.9L991.0 149.3L994.0 151.4L997.0 153.5L1000.0 155.5L1003.0 157.7L1006.0 160.5L1009.0 163.9L1012.0 169.2L1015.0 177.9L1018.0 188.0L1021.0 196.8L1024.0 204.7L1027.0 212.0L1030.0 218.2L1033.0 223.5L1036.0 228.6L1039.0 233.5L1042.0 239.3L1045.0 247.0L1048.0 255.2L1051.0 262.9L1054.0 269.8L1057.0 276.7L1060.0 283.8L1063.0 290.6L1066.0 296.5L1069.0 301.9L1072.0 307.0L1075.0 311.4L1078.0 315.5L1081.0 318.7L1084.0 320.1L1087.0 320.0L1090.0 319.6L1093.0 321.0L1096.0 323.6L1099.0 326.0" stroke="#ff4a4a" stroke-width="0.9" fill="none" opacity="0.85" stroke-linejoin="round"/>
<line x1="0" y1="342.5" x2="1390" y2="342.5" stroke="#26a69a" stroke-width="1" stroke-dasharray="1 1" opacity="0.55"/>
<line x1="0" y1="387" x2="1390" y2="387" stroke="#cdd0d8" stroke-width="1.7" stroke-dasharray="3.7 3.7"/>
<line x1="1229.5" y1="26" x2="1229.5" y2="612" stroke="#787b86" stroke-width="1.1" stroke-dasharray="4 3.6" opacity="0.85"/>
<line x1="0" y1="373" x2="1390" y2="373" stroke="#ffeb3b" stroke-width="2.2"/>
<line x1="0" y1="307" x2="1390" y2="307" stroke="#2962ff" stroke-width="2"/>
<line x1="0" y1="438.5" x2="1087.5" y2="25.8" stroke="#131722" stroke-width="1.95"/>
<line x1="514.3" y1="612" x2="1390.3" y2="276.3" stroke="#131722" stroke-width="1.95"/>
<polygon points="1231.6,193.3 1204.1,242.3 1245.4,246.7" fill="#00bcd4" opacity="0.22"/>
<path d="M1118.0 328.0C1118.9 326.0 1122.0 318.5 1123.6 316.0C1125.2 313.5 1126.2 313.0 1127.8 312.8C1129.4 312.6 1130.7 313.1 1133.0 315.0C1135.3 316.9 1138.9 320.8 1141.7 324.0C1144.5 327.2 1147.7 331.2 1150.0 334.0C1152.3 336.8 1154.1 339.2 1155.6 340.6C1157.1 342.0 1157.8 342.6 1158.9 342.5C1160.1 342.4 1161.0 342.0 1162.5 339.7C1164.0 337.4 1166.2 331.2 1168.0 328.6C1169.8 326.0 1172.0 324.6 1173.6 324.0C1175.2 323.4 1176.2 323.8 1177.8 325.0C1179.4 326.2 1181.2 329.5 1183.0 331.0C1184.8 332.5 1186.8 334.0 1188.9 334.0C1191.0 334.0 1193.5 332.7 1195.8 331.0C1198.1 329.3 1200.8 326.7 1202.8 324.0C1204.8 321.3 1206.6 317.4 1208.0 314.7C1209.4 312.0 1210.0 311.8 1211.0 307.8C1212.0 303.9 1213.0 296.6 1213.9 291.0C1214.9 285.4 1215.8 279.5 1216.7 274.0C1217.6 268.5 1218.5 263.3 1219.4 257.8C1220.3 252.3 1221.3 244.6 1222.0 241.0C1222.7 237.4 1222.9 237.8 1223.3 236.0C1223.7 234.2 1224.4 231.5 1224.4 230.0C1224.5 228.5 1224.2 227.4 1223.6 226.8C1223.0 226.2 1222.1 225.7 1221.0 226.5C1219.9 227.3 1218.1 229.9 1217.2 231.5C1216.3 233.1 1215.5 234.6 1215.5 236.0C1215.5 237.4 1216.4 239.0 1217.5 240.0C1218.6 241.0 1220.7 241.7 1222.0 241.8C1223.3 241.9 1224.7 241.5 1225.4 240.5C1226.1 239.5 1226.0 237.9 1226.0 236.0C1226.0 234.1 1225.3 230.2 1225.2 229.0" stroke="#26b6d4" stroke-width="1" fill="none"/>
</svg>
<div id="axis"></div>
<div class="pl" style="top:38px">760.00</div>
<div class="pl" style="top:58px">740.00</div>
<div class="pl" style="top:79px">720.00</div>
<div class="pl" style="top:100px">700.00</div>
<div class="pl" style="top:122px">680.00</div>
<div class="pl" style="top:144px">660.00</div>
<div class="pl" style="top:168px">640.00</div>
<div class="pl" style="top:191px">620.00</div>
<div class="pl" style="top:216px">600.00</div>
<div class="pl" style="top:241px">580.00</div>
<div class="pl" style="top:268px">560.00</div>
<div class="pl" style="top:295px">540.00</div>
<div class="pl" style="top:324px">520.00</div>
<div class="pl" style="top:353px">500.00</div>
<div class="pl" style="top:416px">460.00</div>
<div class="pl" style="top:441px">445.00</div>
<div class="pl" style="top:466px">430.00</div>
<div class="pl" style="top:493px">415.00</div>
<div class="pl" style="top:515px">403.00</div>
<div class="pl" style="top:538px">391.00</div>
<div class="pl" style="top:561px">379.00</div>
<div class="pl" style="top:585px">367.00</div>

<div id="tb">
<div class="tt" style="left:3px;font-weight:bold;letter-spacing:0.3px;font-size:8px">ADBE</div>
<div class="tt" style="left:74px;font-weight:bold;font-size:8px">D</div>
<div class="sep" style="left:89px"></div>
<svg class="abs" style="left:96px;top:5px" width="14" height="16" viewBox="0 0 14 16" fill="none" stroke="#2a2e39" stroke-width="0.900"><path d="M3.800 0.500v1.300M3.800 11.800v2.200M2.500 1.800h2.600v10h-2.600zM9.600 2.300v1.800M9.600 10v2.300M8.300 4.100h2.600v5.900h-2.600z"/></svg>
<div class="sep" style="left:115px"></div>
<svg class="abs" style="left:121px;top:6px" width="14" height="14" viewBox="0 0 14 14" fill="none" stroke="#2a2e39" stroke-width="0.900"><circle cx="7" cy="7" r="5.900"/><path d="M7 4.300v5.400M4.300 7h5.400"/></svg>
<div class="tt" style="left:139px">Compare</div>
<svg class="abs" style="left:189px;top:5px" width="15" height="15" viewBox="0 0 15 15" fill="none" stroke="#2a2e39" stroke-width="0.800"><path d="M2.200 5.600l3.400-2.800 2.700 1.700 4.200-3.300" stroke-width="0.900"/><path d="M2.400 13.400v-2.600h2.300v2.600zM6.300 13.400v-4.800h2.300v4.800zM10 13.400v-7h2.300v7z"/></svg>
<div class="tt" style="left:206.500px;letter-spacing:0.450px">Indicators</div>
<svg class="abs" style="left:262px;top:7px" width="12" height="12" viewBox="0 0 12 12" fill="none" stroke="#2a2e39" stroke-width="0.900"><rect x="0.900" y="0.500" width="3.600" height="3.600" rx="0.400"/><rect x="7" y="0.500" width="3.600" height="3.600" rx="0.400"/><rect x="0.900" y="6.700" width="3.600" height="3.600" rx="0.400"/><rect x="7" y="6.700" width="3.600" height="3.600" rx="0.400"/></svg>
<div class="tt" style="left:279px">Templates</div>
<svg class="abs" style="left:333px;top:5px" width="16" height="16" viewBox="0 0 16 16" fill="none" stroke="#2a2e39" stroke-width="0.900"><path d="M11.900 8.200a4.900 4.900 0 1 0-4.600 5.200"/><path d="M7 4.800v3.200h-2.300"/><path d="M2 4.500a2.100 2.100 0 0 1 2.800-2.600M9.300 1.900a2.100 2.100 0 0 1 2.800 2.600"/><path d="M11.300 9.700v4.600M9 12h4.600"/></svg>
<div class="tt" style="left:352px">Alert</div>
<div class="sep" style="left:379px"></div>
<svg class="abs" style="left:386px;top:7px" width="14" height="12" viewBox="0 0 14 12" fill="none" stroke="#2a2e39" stroke-width="0.900" stroke-linejoin="round"><path d="M6.300 2v7l-4.300-3.500zM11 2v7l-4.300-3.500z"/></svg>
<div class="tt" style="left:403px">Replay</div>
<div class="sep" style="left:437px"></div>
<svg class="abs" style="left:443px;top:7px" width="14" height="12" viewBox="0 0 14 12" fill="none" stroke="#2a2e39" stroke-width="0.900"><path d="M4.800 2l-2.600 2.600 2.600 2.600"/><path d="M2.200 4.600h5.300a3.300 3.300 0 0 1 3.300 3.300v1"/></svg>
<svg class="abs" style="left:461px;top:7px" width="14" height="12" viewBox="0 0 14 12" fill="none" stroke="#c9ccd4" stroke-width="0.900"><path d="M8.800 2l2.600 2.600-2.600 2.600"/><path d="M11.400 4.600h-5.300a3.300 3.300 0 0 0-3.300 3.300v1"/></svg>
<div class="sep" style="left:479px"></div>

<div class="sep" style="left:1190px"></div>
<svg class="abs" style="left:1196px;top:6px" width="16" height="15" viewBox="0 0 16 15" fill="none" stroke="#2a2e39" stroke-width="0.900"><rect x="1.500" y="1.700" width="12.400" height="10.800" rx="1.600"/></svg>
<div class="sep" style="left:1216px"></div>
<svg class="abs" style="left:1220px;top:6px" width="20" height="14" viewBox="0 0 20 14" fill="none" stroke="#40444f" stroke-width="0.900" stroke-dasharray="1.800 1.200"><path d="M4.500 11.500a3 3 0 0 1-0.600-5.800a4.900 4.900 0 0 1 9.200-0.700a3.400 3.400 0 0 1 1 6.500z"/></svg>
<div class="tt" style="left:1240px;-webkit-text-stroke:0">Unnamed</div>
<svg class="abs" style="left:1285px;top:10px" width="9" height="6" viewBox="0 0 9 6" fill="none" stroke="#131722" stroke-width="1"><path d="M1.500 1l3 3 3-3"/></svg>
<svg class="abs" style="left:1302px;top:4.500px" width="16" height="17" viewBox="0 0 16 17" fill="none" stroke="#2a2e39" stroke-width="0.900" stroke-linejoin="round"><path d="M6.700 1.700h2.600l0.500 1.900 1.300 0.700 1.900-0.600 1.300 2.200-1.400 1.400v1.400l1.400 1.400-1.300 2.200-1.900-0.600-1.300 0.700-0.500 1.900h-2.600l-0.500-1.900-1.300-0.700-1.900 0.600-1.300-2.200 1.400-1.400v-1.400l-1.400-1.400 1.300-2.200 1.900 0.600 1.300-0.700z"/><path d="M8 6.400l1.600 1.600-1.600 1.600-1.600-1.600z"/></svg>
<div class="sep" style="left:1322px"></div>
<svg class="abs" style="left:1328px;top:5px" width="15" height="15" viewBox="0 0 15 15" fill="none" stroke="#2a2e39" stroke-width="0.900"><path d="M2.500 5.300v-2.800h2.800M9.700 2.500h2.800v2.800M12.500 9.700v2.800h-2.800M5.300 12.500h-2.800v-2.800M2.500 2.500l3.200 3.200M12.500 2.500l-3.200 3.200M12.500 12.500l-3.200-3.200M2.500 12.500l3.200-3.200"/></svg>
<div class="sep" style="left:1348px"></div>
<svg class="abs" style="left:1353px;top:5.300px" width="17" height="14" viewBox="0 0 17 14" fill="none" stroke="#2a2e39" stroke-width="0.900" stroke-linejoin="round"><path d="M1.700 3.500h3l1.100-1.900h5l1.100 1.900h3v8.700h-13.200z"/><circle cx="8.300" cy="7.700" r="2.600"/></svg>
<div class="abs" style="left:1375px;top:0;width:53px;height:25px;background:#2962ff;color:#fff;font-weight:bold;font-size:9px;line-height:26.400px;text-align:center;">Publish</div>
</div>

<div class="lg" id="ttl" style="left:4px;top:30px;font-size:10.600px;line-height:14px;color:#131722;letter-spacing:-0.320px">Adobe Inc. <span style="color:#787b86">·</span> 1D <span style="color:#787b86">·</span> NASDAQ <span style="color:#787b86">·</span> TradingView</div>
<div class="abs" style="left:197px;top:31px;width:25.500px;height:12px;border-radius:6px;overflow:hidden;background:#fff0df"><div class="abs" style="left:12.500px;top:0;width:13px;height:12px;background:#fbd8e2"></div>
<svg class="abs" style="left:0;top:0" width="26" height="12" viewBox="0 0 26 12"><path d="M4.900 8.200a2.300 3 0 0 1 4.600 0z" fill="#ff9800"/><path d="M5.800 3.200l0.200 0.600M8.600 3.200l-0.200 0.600M2.800 5.700l1.400 0.700M11.600 5.700l-1.400 0.700" stroke="#ff9800" stroke-width="0.900" stroke-linecap="round" fill="none"/><path d="M16.200 5.900q1.500-1.900 3-0.500t3-0.700M16.200 8.200q1.500-1.900 3-0.500t3-0.700" stroke="#c2185b" stroke-width="1.150" fill="none"/></svg></div>
<div class="lg" id="ohlc" style="left:234px;top:32.700px;font-size:8.300px;line-height:11px;color:#26a69a;letter-spacing:0.200px"><span style="color:#5d606b">O</span>501.63 <span style="color:#5d606b">H</span>513.51 <span style="color:#5d606b">L</span>501.07 <span style="color:#5d606b">C</span>511.31 +4.21 (+0.83%)</div>
<div class="abs" style="left:2.600px;top:47.300px;width:35px;height:14px;border:1px solid #f23645;border-radius:2.500px;box-sizing:content-box"></div>
<div class="lg" style="left:9px;top:49.500px;font-size:8.500px;line-height:11px;color:#f23645">511.31</div>
<div class="lg" style="left:45px;top:51px;font-size:6.800px;line-height:9px;color:#787b86">0.00</div>
<div class="abs" style="left:65.200px;top:47.300px;width:35.300px;height:14px;border:1px solid #2962ff;border-radius:2.500px;box-sizing:content-box"></div>
<div class="lg" style="left:70.500px;top:49.500px;font-size:8.500px;line-height:11px;color:#2962ff">511.31</div>
<div class="lg" id="ema" style="left:4px;top:68.500px;font-size:8.800px;line-height:11px;color:#131722;letter-spacing:0px">EMA 20/50/100/200</div>
<div class="lg" style="left:86.500px;top:68.500px;font-size:8.800px;line-height:11px;color:#ff0000;letter-spacing:-0.150px">522.02</div>
<div class="lg" style="left:116px;top:68.500px;font-size:8.800px;line-height:11px;color:#ff7f00;letter-spacing:-0.150px">552.60</div>
<div class="lg" style="left:146px;top:68.500px;font-size:8.800px;line-height:11px;color:#00e5ff;letter-spacing:-0.150px">576.03</div>
<div class="lg" style="left:176px;top:68.500px;font-size:8.800px;line-height:11px;color:#0000ff;letter-spacing:-0.150px">571.23</div>
<div class="lg" style="left:4px;top:84.500px;font-size:8.800px;line-height:11px;color:#131722;letter-spacing:-0.300px">Vol</div>
<div class="lg" style="left:21px;top:84.500px;font-size:8.800px;line-height:11px;color:#26a69a;letter-spacing:-0.150px">3.206M</div>
<div class="abs" style="left:2.500px;top:98.500px;width:18px;height:13px;border:1px solid #d1d4dc;border-radius:2px;background:#fff"></div>
<svg class="abs" style="left:8.500px;top:103.500px" width="8" height="6" viewBox="0 0 8 6" fill="none" stroke="#131722" stroke-width="1"><path d="M1.200 4.200l2.800-2.600 2.800 2.600"/></svg>

<div class="abs" style="left:1396.300px;top:30.500px;width:25.400px;height:13.800px;border:1px solid #d1d4dc;border-radius:2.500px;background:#fff;box-sizing:border-box"></div>
<div class="abs" style="left:1399.800px;top:31.500px;font-size:9.200px;line-height:12px;color:#131722;transform:scaleX(0.720);transform-origin:0 0">USD</div>
<svg class="abs" style="left:1415px;top:36px" width="5" height="4" viewBox="0 0 5 4"><path d="M0.400 0.600h4.200l-2.100 2.300z" fill="#131722"/></svg>
<div class="tag" style="top:301px;height:11.500px;line-height:13.300px;background:#2962ff"><span>536.11</span></div>
<div class="tag" style="top:337px;height:11px;line-height:12.600px;background:#26a69a"><span>511.31</span></div>
<div class="tag" style="top:367.500px;height:11px;line-height:11.800px;background:#ffeb3b;color:#131722;font-weight:normal"><span>491.07</span></div>
<div class="tag" style="top:380.500px;height:13.500px;line-height:14.800px;background:#131722"><span>481.86</span></div>
<div class="abs" style="left:1375px;top:380.500px;width:13.500px;height:13.500px;background:#131722;border-radius:1.500px 0 0 1.500px"></div>
<svg class="abs" style="left:1375px;top:380.500px" width="13.500" height="13.500" viewBox="0 0 13.500 13.500" fill="none" stroke="#fff" stroke-width="0.800"><circle cx="6.750" cy="6.750" r="3.600"/><path d="M6.750 4.800v3.900M4.800 6.750h3.900"/></svg>

<div id="strip"></div>
</body></html>
